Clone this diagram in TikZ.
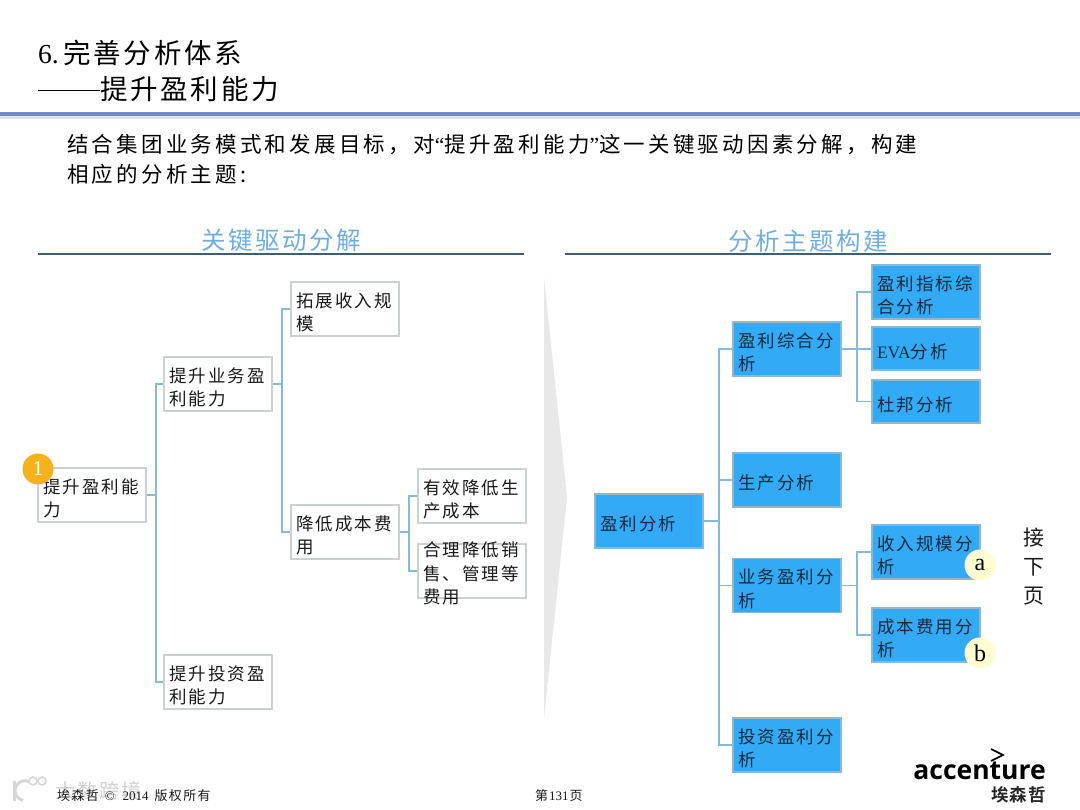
\documentclass[tikz,border=0pt]{standalone}
\usepackage{fontspec}
\setmainfont{Liberation Serif}
\newfontfamily\cj[LetterSpace=12]{Noto Sans CJK SC}
\newfontfamily\cjb[LetterSpace=15]{Noto Sans CJK SC}
\newfontfamily\cjt[LetterSpace=10]{Noto Sans CJK SC}
\newfontfamily\cjlogo[LetterSpace=5]{Noto Sans CJK SC Bold}
\newfontfamily\logofont{Open Sans Bold}
\definecolor{bluefill}{HTML}{33AAF5}
\definecolor{blueedge}{HTML}{8FB8D0}
\definecolor{greyedge}{HTML}{CCD0D0}
\definecolor{connblue}{HTML}{85BBD8}
\definecolor{headblue}{HTML}{6F8FC2}
\definecolor{sectblue}{HTML}{6FAEDC}
\definecolor{ruledark}{HTML}{3F5F70}
\definecolor{inkdark}{HTML}{1A1A1A}
\definecolor{inkblue}{HTML}{142A40}
\definecolor{badgeorange}{HTML}{F5B21C}
\tikzset{
  basebox/.style={rectangle,minimum width=108pt,minimum height=54pt,text width=98pt,inner xsep=5pt,inner ysep=0pt,align=left,font=\fontsize{17.5}{23.5}\selectfont\cj,line width=1.4pt,execute at begin node={\rule{0pt}{21.4pt}}},
  plainbox/.style={basebox,draw=greyedge,fill=white,text=inkdark},
  bluebox/.style={basebox,draw=blueedge,fill=bluefill,text=inkblue},
  conn/.style={draw=connblue,line width=1.6pt},
  secthead/.style={font=\fontsize{24.5}{28}\selectfont\cjt,text=sectblue,inner sep=0pt},
  rulerline/.style={draw=ruledark,line width=1.5pt},
  titletext/.style={anchor=west,inner sep=0pt,font=\fontsize{27.5}{30}\selectfont\cjt,text=black},
  bodytext/.style={anchor=west,inner sep=0pt,font=\fontsize{21.5}{28}\selectfont\cjb,text=black},
  footertext/.style={anchor=west,inner sep=0pt,font=\fontsize{13}{15}\selectfont\cjt,text=inkdark},
  softbadge/.style={circle,fill=#1,minimum size=31pt,inner sep=0pt,font=\fontsize{24}{24}\selectfont,text=black}
}
\begin{document}
\begin{tikzpicture}[x=1pt,y=-1pt]
\useasboundingbox (0,0) rectangle (1080,810);
\fill[white] (0,0) rectangle (1080,810);
% title
\node[titletext] (t1) at (38,53) {\rmfamily 6.\,\cjt 完善分析体系};
\node[titletext] (t2) at (38,89) {\rule[0.3em]{62pt}{0.9pt}\cjt 提升盈利能力};
\fill[black!12] (0,116) rectangle (1080,119);
\fill[headblue] (0,112.5) rectangle (1080,116.5);
% intro
\node[bodytext] (i1) at (67,145) {结合集团业务模式和发展目标，对{\rmfamily “}提升盈利能力{\rmfamily ”}这一关键驱动因素分解，构建};
\node[bodytext] (i2) at (67,174) {相应的分析主题:};
% section heads
\node[secthead] (h1) at (281,240) {关键驱动分解};
\node[secthead] (h2) at (808,241) {分析主题构建};
\draw[rulerline] (38,254) -- (524,254);
\draw[rulerline] (565,254) -- (1051,254);
% big arrow
\fill[black!9] (544,277) -- (567,497) -- (544,718) -- cycle;
% left tree
\node[plainbox] (L0) at (92,495) {提升盈利能\\力};
\node[plainbox] (L1) at (218,384) {提升业务盈\\利能力};
\node[plainbox] (L2) at (218,682) {提升投资盈\\利能力};
\node[plainbox] (L3) at (345,309) {拓展收入规\\模};
\node[plainbox] (L4) at (345,532) {降低成本费\\用};
\node[plainbox] (L5) at (472,496) {有效降低生\\产成本};
\node[plainbox] (L6) at (472,571) {\smash{\raisebox{4pt}{\parbox[c]{98pt}{\raggedright 合理降低销\\售、管理等\\费用}}}};
\draw[conn] (L0.east) -- ++(9,0) |- (L1.west);
\draw[conn] (L0.east) -- ++(9,0) |- (L2.west);
\draw[conn] (L1.east) -- ++(9,0) |- (L3.west);
\draw[conn] (L1.east) -- ++(9,0) |- (L4.west);
\draw[conn] (L4.east) -- ++(9,0) |- (L5.west);
\draw[conn] (L4.east) -- ++(9,0) |- (L6.west);
\node[circle,fill=badgeorange,minimum size=31pt,inner sep=0pt,text=white,font=\fontsize{21}{21}\selectfont] (B1) at (38,469) {1};
% right tree
\node[bluebox] (R0) at (649,521) {盈利分析};
\node[bluebox] (R1) at (787,349) {盈利综合分\\析};
\node[bluebox] (R2) at (787,480) {生产分析};
\node[bluebox] (R3) at (787,585.5) {业务盈利分\\析};
\node[bluebox] (R4) at (787,745) {投资盈利分\\析};
\node[bluebox] (R5) at (926,292) {盈利指标综\\合分析};
\node[bluebox,minimum height=43pt] (R6) at (926,348.5) {{\rmfamily EVA}分析};
\node[bluebox,minimum height=43pt] (R7) at (926,401.5) {杜邦分析};
\node[bluebox] (R8) at (926,552) {收入规模分\\析};
\node[bluebox] (R9) at (926,635) {成本费用分\\析};
\draw[conn] (R0.east) -- ++(15,0) |- (R1.west);
\draw[conn] (R0.east) -- ++(15,0) |- (R2.west);
\draw[conn] (R0.east) -- ++(15,0) |- (R3.west);
\draw[conn] (R0.east) -- ++(15,0) |- (R4.west);
\draw[conn] (R1.east) -- ++(15,0) |- (R5.west);
\draw[conn] (R1.east) -- (R6.west |- R1.east);
\draw[conn] (R1.east) -- ++(15,0) |- (R7.west);
\draw[conn] (R3.east) -- ++(15,0) |- (R8.west);
\draw[conn] (R3.east) -- ++(15,0) |- (R9.west);
\node[softbadge=yellow!18] (Ba) at (980,565) {a};
\node[softbadge=yellow!18] (Bb) at (980,653) {b};
% continue note
\node[inner sep=0pt,font=\fontsize{21}{29}\selectfont\cjt,align=center,text=inkdark] (next) at (1034,566.5) {接\\下\\页};
% watermark
\begin{scope}[draw=black!16,line width=3pt]
\draw (14,781) -- (14,801);
\draw (30,782) arc[start angle=-60,end angle=-260,radius=10];
\draw[line width=1.6pt] (33,781) circle[radius=4];
\draw[line width=1.6pt] (42,781) circle[radius=4];
\end{scope}
\node[anchor=west,inner sep=0pt,font=\fontsize{20}{22}\selectfont\cjt,text=black!18] (wm) at (55,791) {大数跨境};
% footer
\node[footertext] (f1) at (57,796) {埃森哲\hspace{6pt}{\rmfamily\textcopyright\hspace{8pt}2014}\hspace{6pt}版权所有};
\node[footertext] (f2) at (535,796) {第\hspace{1pt}{\rmfamily 131}\hspace{1pt}页};
% logo
\node[anchor=east,inner sep=0pt,font=\fontsize{26.5}{28}\selectfont\logofont,text=black] (lg) at (1046,771) {accenture};
\draw[black,line width=1.6pt] (991,749) -- (1003,755) -- (991,761);
\node[anchor=east,inner sep=0pt,font=\fontsize{17.5}{18}\selectfont\cjlogo,text=black!85] (lg2) at (1046,795) {埃森哲};
\end{tikzpicture}
\end{document}
